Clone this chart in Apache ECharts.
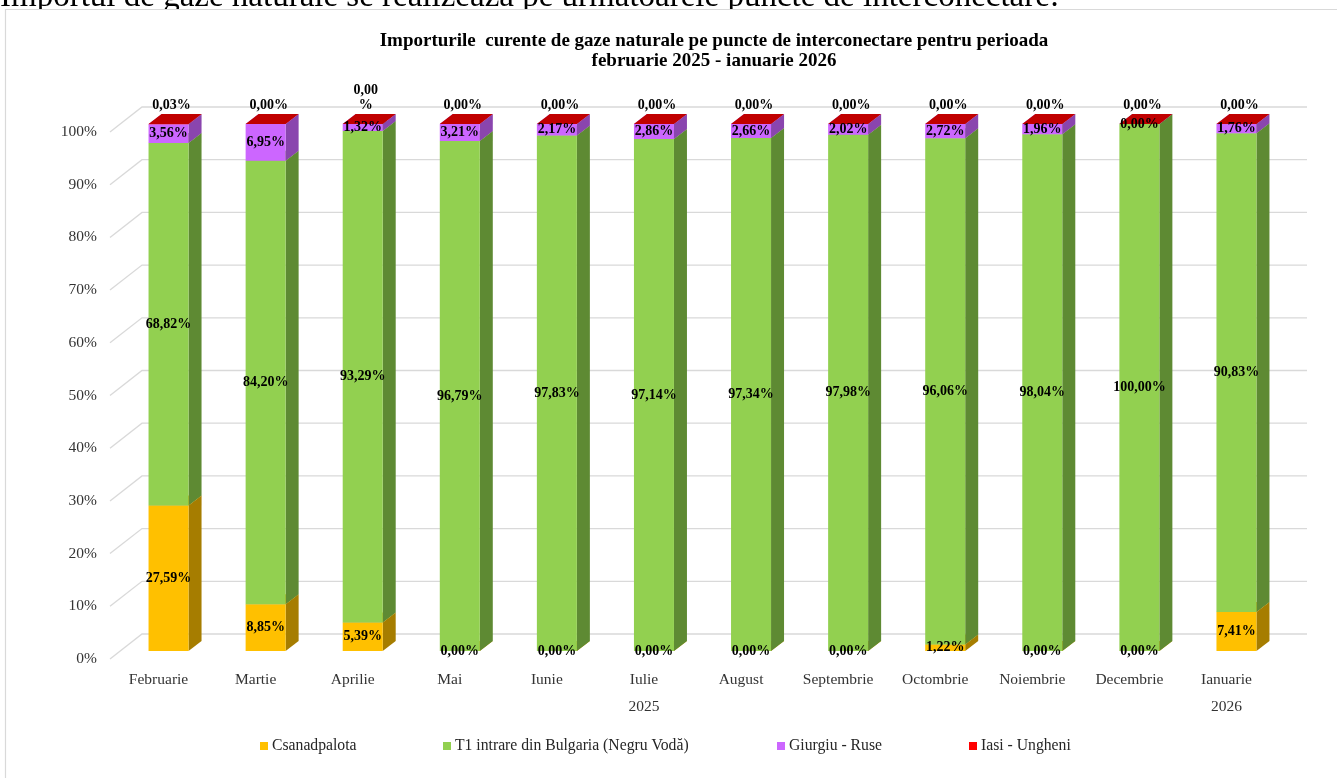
<!DOCTYPE html>
<html>
<head>
<meta charset="utf-8">
<script src="https://cdn.jsdelivr.net/npm/echarts@6/dist/echarts.min.js"></script>
<style>
html,body{margin:0;padding:0;background:#fff;}
#chart{width:1337px;height:778px;}
</style>
</head>
<body>
<div id="chart"></div>
<script>
// ---- data ----
const months = ['Februarie','Martie','Aprilie','Mai','Iunie','Iulie','August','Septembrie','Octombrie','Noiembrie','Decembrie','Ianuarie'];
const years = ['','','','','','2025','','','','','','2026'];
const yTicks = [0,10,20,30,40,50,60,70,80,90,100];
const seriesNames = ['Csanadpalota','T1 intrare din Bulgaria (Negru Vodă)','Giurgiu - Ruse','Iasi - Ungheni'];
const csanadpalota = [27.59, 8.85, 5.39, 0.00, 0.00, 0.00, 0.00, 0.00, 1.22, 0.00, 0.00, 7.41];
const t1Bulgaria   = [68.82, 84.20, 93.29, 96.79, 97.83, 97.14, 97.34, 97.98, 96.06, 98.04, 100.00, 90.83];
const giurgiuRuse  = [3.56, 6.95, 1.32, 3.21, 2.17, 2.86, 2.66, 2.02, 2.72, 1.96, 0.00, 1.76];
const iasiUngheni  = [0.03, 0.00, 0.00, 0.00, 0.00, 0.00, 0.00, 0.00, 0.00, 0.00, 0.00, 0.00];
const iasiLabelWrapped = [false,false,true,false,false,false,false,false,false,false,false,false];

// ---- styling ----
const SERIF = '"Liberation Serif","Times New Roman",serif';
const frontColors = ['#FFC000','#92D050','#CC66FF','#FF0000'];
const sideColors  = ['#A67D00','#5E8A33','#8A45AE','#A60000'];
const topColors   = ['#D9A300','#7AB140','#B052E0','#C00000'];
const OFFX = 10, OFFY = 8;     // bar placement inside floor depth
const BW = 40, DX = 13, DY = 10; // bar width and depth
const WALLX = 32, WALLY = 25;  // wall depth

const values = [csanadpalota, t1Bulgaria, giurgiuRuse, iasiUngheni];
const stacked = values.map(() => []);
const cum = months.map(() => 0);
values.forEach((arr, k) => {
  arr.forEach((v, i) => {
    stacked[k].push([i, cum[i], cum[i] + v, v]);
    cum[i] += v;
  });
});

function fmt(v){ return v.toFixed(2).replace('.', ',') + '%'; }

function makeRender(k){
  return function(params, api){
    const i = api.value(0), b = api.value(1), t = api.value(2), v = api.value(3);
    const pb = api.coord([i, b]);
    const pt = api.coord([i, t]);
    const cx = pb[0] + OFFX;
    const yb = pb[1] - OFFY, yt = pt[1] - OFFY;
    const x0 = cx - BW/2, x1 = cx + BW/2;
    const children = [];
    if (yb - yt > 0.01) {
      children.push({type:'polygon', shape:{points:[[x1,yb],[x1+DX,yb-DY],[x1+DX,yt-DY],[x1,yt]]}, style:{fill:sideColors[k]}});
      children.push({type:'rect', shape:{x:x0, y:yt, width:BW, height:yb-yt}, style:{fill:frontColors[k]}});
    }
    children.push({type:'polygon', shape:{points:[[x0,yt],[x1,yt],[x1+DX,yt-DY],[x0+DX,yt-DY]]}, style:{fill:topColors[k]}});
    let txt = fmt(v), ly, va = 'middle', lx = cx;
    if (k === 3) {
      if (iasiLabelWrapped[params.dataIndex]) txt = txt.replace(',00%', ',00\n%');
      ly = yt - DY - 1; va = 'bottom'; lx = cx + 3;
    } else {
      ly = (yb + yt) / 2;
    }
    children.push({type:'text', z2:100, style:{text:txt, x:lx, y:ly, align:'center', verticalAlign:va,
      font:'bold 14px ' + SERIF, fill:'#000', lineHeight:15}});
    return {type:'group', children:children};
  };
}

const series = [{
  type:'custom', name:'walls', z:1, silent:true,
  data: yTicks.map(v => [0, v]),
  encode:{x:0, y:1},
  renderItem: function(params, api){
    const v = api.value(1);
    const p = api.coord([0, v]);
    const band = api.size([1, 0])[0];
    const xL = p[0] - band/2, xR = xL + months.length * band;
    return {type:'polyline', shape:{points:[[xL, p[1]],[xL+WALLX, p[1]-WALLY],[xR+WALLX, p[1]-WALLY]]},
      style:{stroke:'#d9d9d9', lineWidth:1.3, fill:null}};
  }
}];
seriesNames.forEach((name, k) => {
  series.push({
    type:'custom', name:name, z:2,
    itemStyle:{color:frontColors[k]},
    data: stacked[k],
    encode:{x:0, y:[1,2]},
    renderItem: makeRender(k)
  });
});

const legendLeft = [260, 443, 777, 969];
const legends = seriesNames.map((name, k) => ({
  left: legendLeft[k], top: 738, padding:0, data:[name], icon:'rect', itemWidth:8, itemHeight:8, itemGap:0,
  selectedMode:false,
  textStyle:{fontFamily:SERIF, fontSize:15.7, color:'#262626', padding:[0,0,0,-1]}
}));

const chart = echarts.init(document.getElementById('chart'));
chart.setOption({
  animation:false,
  backgroundColor:'#fff',
  grid:{left:110, right:62, top:132, bottom:119},
  xAxis:[{
    type:'category', data:months, position:'bottom',
    axisLine:{show:false}, axisTick:{show:false},
    axisLabel:{fontFamily:SERIF, fontSize:15.5, color:'#333', margin:13, interval:0}
  },{
    type:'category', data:years, position:'bottom', offset:27,
    axisLine:{show:false}, axisTick:{show:false},
    axisLabel:{fontFamily:SERIF, fontSize:15.5, color:'#333', margin:13, interval:0}
  }],
  yAxis:{
    type:'value', min:0, max:100, interval:10,
    axisLine:{show:false}, axisTick:{show:false}, splitLine:{show:false},
    axisLabel:{formatter:'{value}%', fontFamily:SERIF, fontSize:15.5, color:'#333', margin:13}
  },
  legend: legends,
  graphic:[
    {type:'text', x:0, y:14, z:0, style:{text:'Importul de gaze naturale se realizează pe următoarele puncte de interconectare:',
      font:'33px ' + SERIF, fill:'#000', verticalAlign:'bottom', align:'left'}},
    {type:'rect', z:0, shape:{x:5.5, y:9.5, width:1400, height:800}, style:{fill:'#fff', stroke:'#d9d9d9', lineWidth:1.2}, silent:true},
    {type:'text', x:714, y:51, style:{text:'Importurile  curente de gaze naturale pe puncte de interconectare pentru perioada\nfebruarie 2025 - ianuarie 2026',
      font:'bold 19px ' + SERIF, fill:'#000', align:'center', verticalAlign:'middle', lineHeight:20}}
  ],
  series: series
});
</script>
</body>
</html>
